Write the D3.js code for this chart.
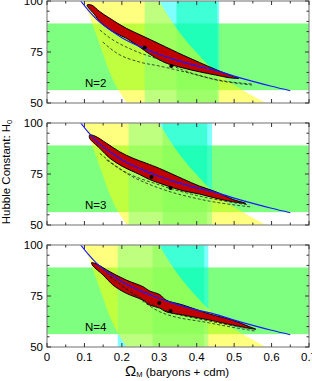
<!DOCTYPE html>
<html>
<head>
<meta charset="utf-8">
<script src="https://cdn.jsdelivr.net/npm/d3@7"></script>
<style>
  body { margin: 0; background: #fff; }
  text { font-family: "Liberation Sans", Arial, sans-serif; fill: #000; }
</style>
</head>
<body>
<svg id="chart" width="312" height="381"></svg>
<script>
// axes
const omegaTicks = [0, 0.1, 0.2, 0.3, 0.4, 0.5, 0.6, 0.7];
const hubbleTicks = [50, 75, 100];
const panelLabels = ['N=2', 'N=3', 'N=4'];

// horizontal H0 band and the two vertical omega bands of each panel
const hubbleBand = [56.3, 89];
const omegaBandWide = [[0.261, 0.460], [0.218, 0.441], [0.189, 0.431]];
const omegaBandNarrow = [[0.346, 0.455], [0.309, 0.428], [0.282, 0.420]];

// shape parameter band: [H0, omega left edge, omega right edge]
const gammaBand = [
  [100, 0.100, 0.300], [89, 0.121, 0.337], [75, 0.148, 0.398],
  [64, 0.170, 0.460], [55, 0.195, 0.535], [50, 0.213, 0.585]
];

// blue degeneracy curve (same in every panel)
const peakCurve = [
  [0.09, 100], [0.11, 95.5], [0.13, 91.5], [0.15, 88.3], [0.175, 85], [0.2, 82],
  [0.25, 77.5], [0.3, 73.8], [0.35, 70.8], [0.4, 68.2], [0.45, 66], [0.5, 63.2],
  [0.55, 60.6], [0.6, 58.2], [0.65, 56]
];

// red likelihood regions, upper edge then lower edge back
const regionN2 = [
  [0.119, 98.0], [0.141, 94.8], [0.168, 91.5], [0.212, 86.6], [0.256, 82.8], [0.301, 78.9],
  [0.363, 73.5], [0.407, 69.9], [0.451, 66.4], [0.491, 63.5], [0.513, 62.1],
  [0.487, 62.4], [0.451, 63.7], [0.407, 65.3], [0.363, 67.2], [0.318, 69.6], [0.301, 71.1],
  [0.274, 74.0], [0.247, 77.5], [0.212, 81.7], [0.176, 85.0], [0.141, 89.9], [0.128, 93.1], [0.107, 98.0]
];
const regionN3 = [
  [0.114, 94.1], [0.128, 93.6], [0.159, 90.1], [0.194, 85.9], [0.230, 82.7], [0.265, 80.3],
  [0.301, 77.7], [0.363, 72.6], [0.407, 69.1], [0.451, 66.3], [0.496, 62.6], [0.531, 60.6],
  [0.496, 61.4], [0.451, 63.1], [0.407, 65.2], [0.363, 66.8], [0.318, 69.4], [0.274, 72.3],
  [0.247, 74.8], [0.203, 78.6], [0.168, 82.7], [0.141, 87.6], [0.114, 92.5]
];
const regionN4 = [
  [0.119, 91.3], [0.132, 90.7], [0.168, 86.9], [0.212, 82.8], [0.256, 79.6], [0.274, 77.5],
  [0.301, 75.7], [0.318, 73.0], [0.363, 70.6], [0.434, 66.2], [0.495, 63.2], [0.540, 60.0],
  [0.558, 58.7],
  [0.540, 59.2], [0.495, 60.8], [0.434, 63.2], [0.363, 65.7], [0.318, 67.3], [0.301, 69.1],
  [0.274, 70.6], [0.256, 73.0], [0.212, 76.3], [0.176, 80.4], [0.150, 85.3], [0.123, 89.7]
];
const regions = [regionN2, regionN3, regionN4];

const bestFits = [
  [[0.261, 77.2], [0.332, 68.1]],
  [[0.279, 73.5], [0.330, 68.1]],
  [[0.300, 71.6], [0.330, 67.6]]
];

// dashed contours
const dashUpper = [
  [[0.141, 85.8], [0.168, 81.9], [0.229, 76.0], [0.301, 71.1], [0.362, 66.2], [0.452, 61.5], [0.548, 59.3]],
  [[0.141, 85.1], [0.200, 77.0], [0.301, 69.6], [0.407, 64.2], [0.540, 59.8]],
  [[0.159, 86.1], [0.220, 77.5], [0.301, 69.0], [0.434, 62.7], [0.548, 58.8]]
];
const dashLower = [
  [[0.149, 79.9], [0.186, 74.5], [0.247, 70.1], [0.301, 68.1], [0.380, 64.7], [0.460, 61.0], [0.548, 58.8]],
  [[0.159, 81.9], [0.220, 74.5], [0.301, 68.0], [0.407, 62.7], [0.548, 58.8]],
  [[0.168, 84.5], [0.230, 76.0], [0.301, 67.3], [0.434, 61.8], [0.556, 57.8]]
];

const svg = d3.select('#chart');
const left = 47, right = 309, panelHeight = 102;
const panelTops = [1, 123, 245];

const x = d3.scaleLinear().domain([0, 0.7]).range([left, right]);

panelTops.forEach((top, p) => {
  const y = d3.scaleLinear().domain([50, 100]).range([top + panelHeight, top]);

  svg.append('clipPath').attr('id', `clip${p}`)
    .append('rect')
    .attr('x', left).attr('y', top)
    .attr('width', right - left).attr('height', panelHeight);

  const g = svg.append('g').attr('clip-path', `url(#clip${p})`);

  g.append('rect')
    .attr('x', left).attr('width', right - left)
    .attr('y', y(hubbleBand[1])).attr('height', y(hubbleBand[0]) - y(hubbleBand[1]))
    .attr('fill', '#00ff00').attr('fill-opacity', 0.5);

  g.append('rect')
    .attr('x', x(omegaBandWide[p][0])).attr('width', x(omegaBandWide[p][1]) - x(omegaBandWide[p][0]))
    .attr('y', top).attr('height', panelHeight)
    .attr('fill', '#00ffff').attr('fill-opacity', 0.5);

  g.append('rect')
    .attr('x', x(omegaBandNarrow[p][0])).attr('width', x(omegaBandNarrow[p][1]) - x(omegaBandNarrow[p][0]))
    .attr('y', top).attr('height', panelHeight)
    .attr('fill', '#00ffb0').attr('fill-opacity', 0.5);

  const gammaArea = d3.area()
    .y(d => y(d[0]))
    .x0(d => x(d[1]))
    .x1(d => x(d[2]))
    .curve(d3.curveMonotoneY);

  g.append('path')
    .datum(gammaBand.slice().reverse())
    .attr('d', gammaArea)
    .attr('fill', '#ffff00').attr('fill-opacity', 0.5);

  g.append('path')
    .datum(regions[p])
    .attr('d', d3.line().x(d => x(d[0])).y(d => y(d[1])).curve(d3.curveCatmullRomClosed.alpha(0.5)))
    .attr('fill', '#c00000')
    .attr('stroke', '#000')
    .attr('stroke-width', 1);

  const line = d3.line().x(d => x(d[0])).y(d => y(d[1])).curve(d3.curveMonotoneX);

  [dashUpper[p], dashLower[p]].forEach(pts => {
    g.append('path')
      .datum(pts)
      .attr('d', line)
      .attr('fill', 'none')
      .attr('stroke', '#222')
      .attr('stroke-width', 0.8)
      .attr('stroke-dasharray', '3,2');
  });

  g.append('path')
    .datum(peakCurve)
    .attr('d', line)
    .attr('fill', 'none')
    .attr('stroke', '#1a1aff')
    .attr('stroke-width', 1.2);

  g.selectAll('.dot')
    .data(bestFits[p])
    .enter().append('circle')
    .attr('cx', d => x(d[0]))
    .attr('cy', d => y(d[1]))
    .attr('r', 2)
    .attr('fill', '#000');

  g.append('text')
    .attr('x', x(0.13)).attr('y', y(58))
    .attr('text-anchor', 'middle')
    .style('font-size', '11.5px')
    .text(panelLabels[p]);

  // frame
  svg.append('rect')
    .attr('x', left).attr('y', top)
    .attr('width', right - left).attr('height', panelHeight)
    .attr('fill', 'none').attr('stroke', '#888').attr('stroke-width', 1.2);

  // inward ticks
  const minorX = d3.range(0, 0.701, 0.05);
  const minorY = d3.range(50, 100.1, 5);
  const ticks = svg.append('g').attr('stroke', '#333').attr('stroke-width', 1);
  minorX.forEach((v, i) => {
    const len = i % 2 === 0 ? 4 : 2.5;
    ticks.append('line').attr('x1', x(v)).attr('x2', x(v))
      .attr('y1', top + panelHeight).attr('y2', top + panelHeight - len);
    ticks.append('line').attr('x1', x(v)).attr('x2', x(v))
      .attr('y1', top).attr('y2', top + len);
  });
  minorY.forEach(v => {
    const len = hubbleTicks.includes(v) ? 4 : 2.5;
    ticks.append('line').attr('y1', y(v)).attr('y2', y(v))
      .attr('x1', left).attr('x2', left + len);
    ticks.append('line').attr('y1', y(v)).attr('y2', y(v))
      .attr('x1', right).attr('x2', right - len);
  });

  svg.append('g')
    .selectAll('text')
    .data(hubbleTicks)
    .enter().append('text')
    .attr('x', left - 4)
    .attr('y', d => y(d))
    .attr('dy', '0.36em')
    .attr('text-anchor', 'end')
    .style('font-size', '11.5px')
    .text(d => d);
});

// bottom tick labels
svg.append('g')
  .selectAll('text')
  .data(omegaTicks)
  .enter().append('text')
  .attr('x', d => x(d))
  .attr('y', 361)
  .attr('text-anchor', 'middle')
  .style('font-size', '11.5px')
  .text(d => d === 0 ? '0' : d3.format('.1f')(d));

// axis titles
const xTitle = svg.append('text').attr('x', 125).attr('y', 376).style('font-size', '11.5px');
xTitle.append('tspan').style('font-size', '15px').text('Ω');
xTitle.append('tspan').style('font-size', '7.5px').attr('dy', 1).text('M');
xTitle.append('tspan').attr('dy', -1).text(' (baryons + cdm)');

const yTitle = svg.append('text')
  .attr('transform', 'translate(10,172) rotate(-90)')
  .attr('text-anchor', 'middle')
  .style('font-size', '11.5px');
yTitle.append('tspan').text('Hubble Constant: H');
yTitle.append('tspan').style('font-size', '7.5px').attr('dy', 2).text('0');
</script>
</body>
</html>
